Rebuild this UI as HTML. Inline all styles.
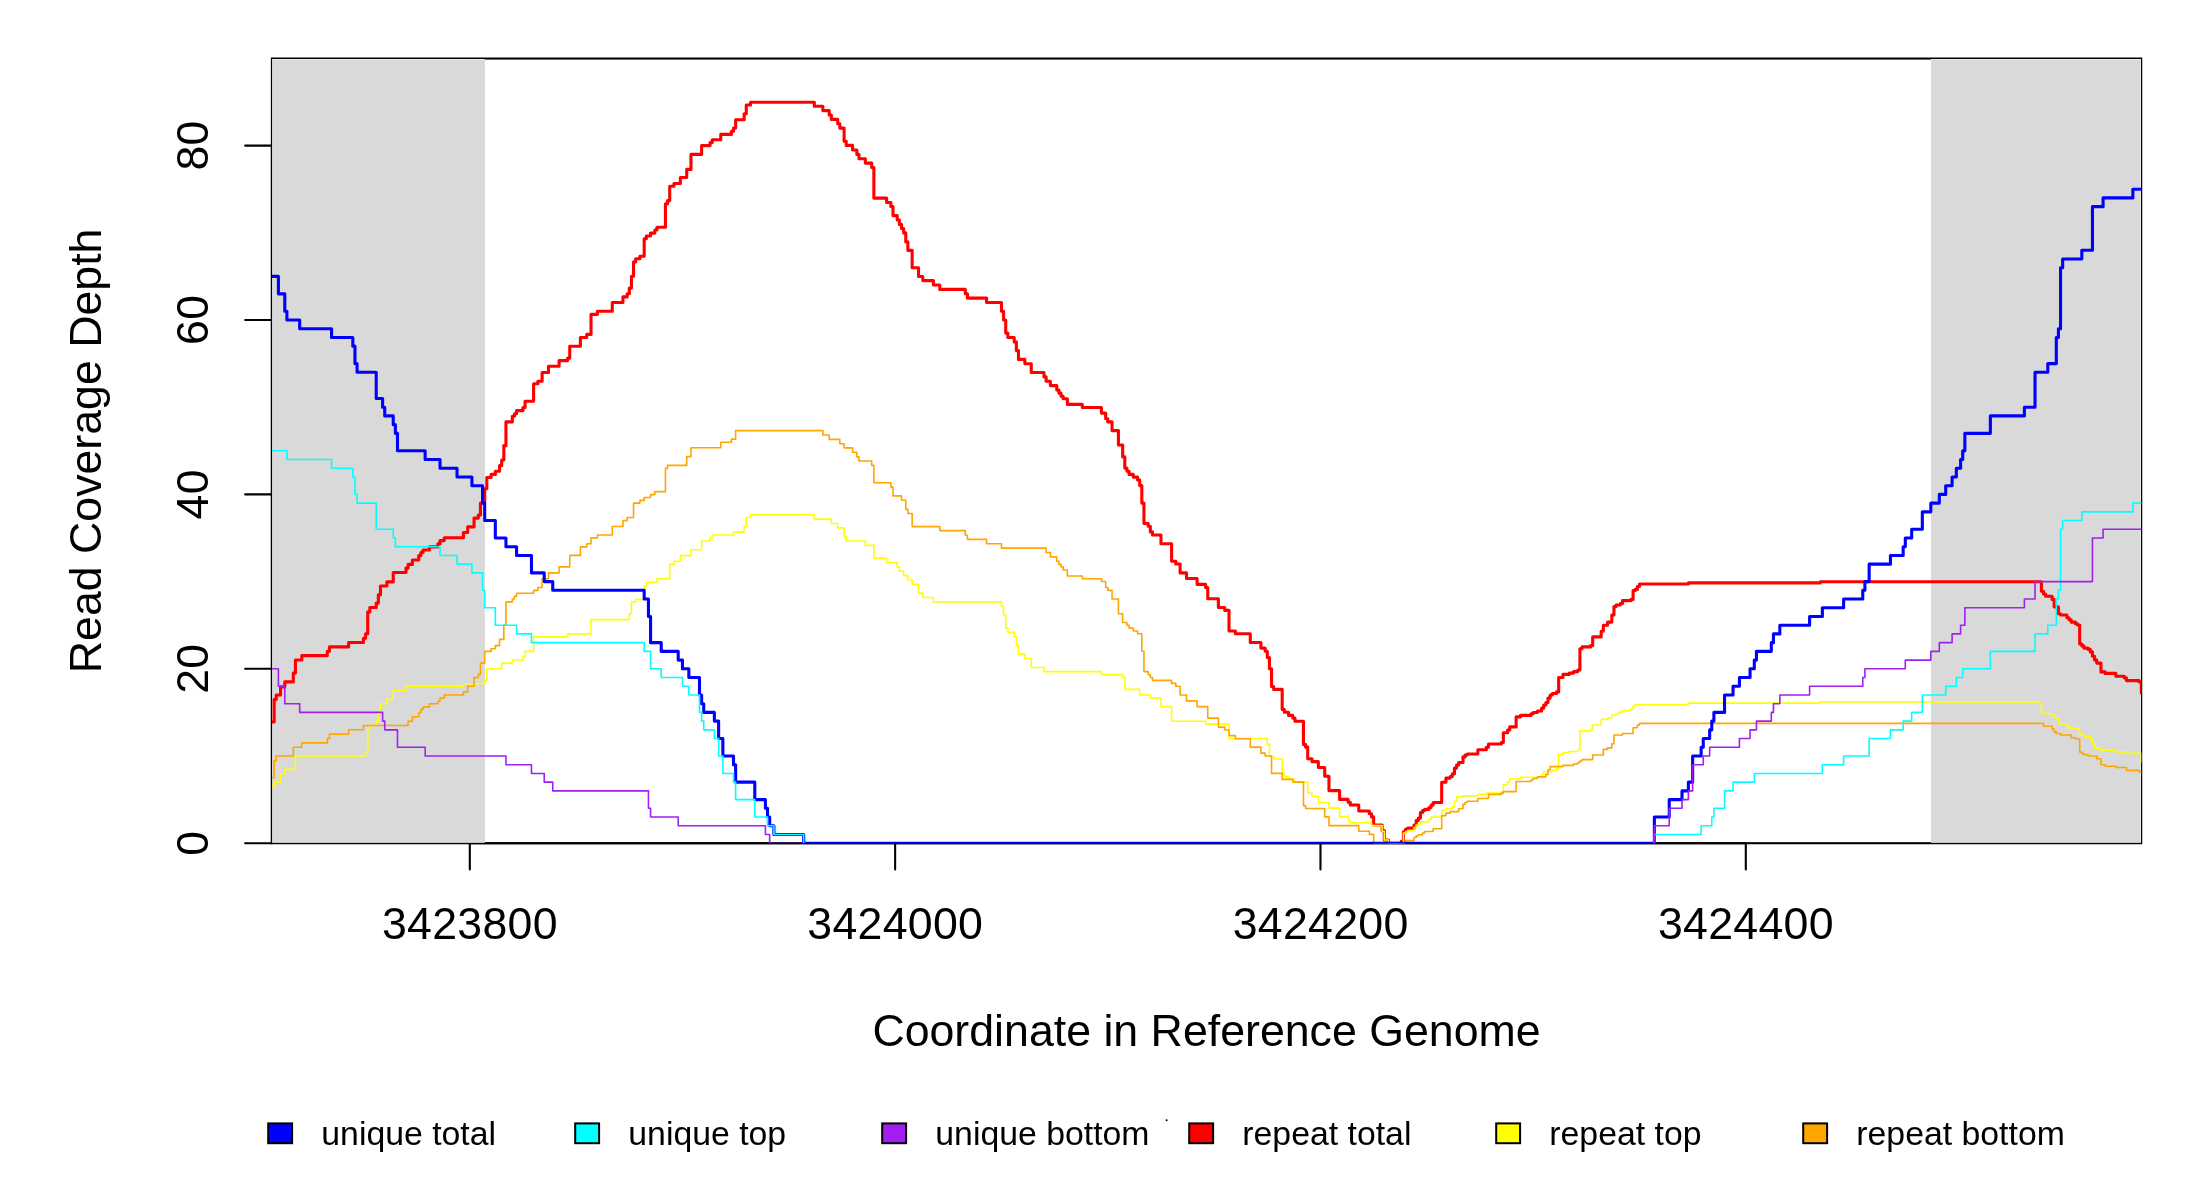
<!DOCTYPE html>
<html><head><meta charset="utf-8"><title>Read Coverage Depth</title>
<style>html,body{margin:0;padding:0;background:#fff}body{width:2200px;height:1200px;position:relative;overflow:hidden}</style></head>
<body>
<svg width="2200" height="1200" viewBox="0 0 2200 1200" style="position:absolute;left:0;top:0;will-change:transform">
<defs><clipPath id="pc"><rect x="271.90" y="58.55" width="1869.45" height="785.05"/></clipPath></defs>
<rect x="271.90" y="58.55" width="1869.30" height="784.65" fill="none" stroke="#000" stroke-width="2.1"/>
<path d="M469.8 843.20H1745.8" stroke="#000" stroke-width="2.1" fill="none"/>
<path d="M271.90 843.20V145.60" stroke="#000" stroke-width="2.1" fill="none"/>
<path d="M469.80 843.20V869.55" stroke="#000" stroke-width="2.1" stroke-linecap="round" fill="none"/>
<path d="M895.13 843.20V869.55" stroke="#000" stroke-width="2.1" stroke-linecap="round" fill="none"/>
<path d="M1320.47 843.20V869.55" stroke="#000" stroke-width="2.1" stroke-linecap="round" fill="none"/>
<path d="M1745.80 843.20V869.55" stroke="#000" stroke-width="2.1" stroke-linecap="round" fill="none"/>
<path d="M271.90 843.20H245.15" stroke="#000" stroke-width="2.1" stroke-linecap="round" fill="none"/>
<path d="M271.90 668.80H245.15" stroke="#000" stroke-width="2.1" stroke-linecap="round" fill="none"/>
<path d="M271.90 494.40H245.15" stroke="#000" stroke-width="2.1" stroke-linecap="round" fill="none"/>
<path d="M271.90 320.00H245.15" stroke="#000" stroke-width="2.1" stroke-linecap="round" fill="none"/>
<path d="M271.90 145.60H245.15" stroke="#000" stroke-width="2.1" stroke-linecap="round" fill="none"/>
<rect x="272.1" y="59.0" width="212.75" height="783.80" fill="#E8E8E8"/>
<rect x="273.0" y="60.0" width="211.85" height="781.90" fill="#D9D9D9"/>
<rect x="1931.0" y="59.0" width="210.00" height="783.80" fill="#E8E8E8"/>
<rect x="1931.0" y="60.0" width="209.00" height="781.90" fill="#D9D9D9"/>
<g clip-path="url(#pc)" fill="none" stroke-linejoin="round" stroke-linecap="butt">
<path d="M272.02 721.88H274.15V699.38H276.27V695.00H280.53V686.88H284.78V681.88H293.29V673.12H295.41V660.00H301.79V655.62H327.31V651.25H329.44V646.88H348.58V642.50H363.47V638.25H365.59V633.75H367.72V611.88H369.85V607.50H376.23V603.12H378.35V594.75H380.48V586.00H386.86V581.88H393.24V572.50H406.00V568.12H408.13V564.38H412.38V560.00H418.76V555.62H420.89V552.50H423.01V550.00H429.39V546.88H437.90V543.75H440.03V540.62H444.28V537.75H463.42V532.50H467.67V526.88H474.05V518.12H478.31V515.00H480.43V503.12H484.69V488.75H486.81V477.50H491.07V474.38H495.32V471.25H499.57V465.62H501.70V460.00H503.83V445.62H505.95V421.88H512.33V416.25H514.46V413.75H516.59V410.62H522.97V407.50H525.09V401.25H533.60V383.75H537.85V381.25H542.11V372.50H548.49V366.25H559.12V360.62H567.63V358.12H569.75V346.25H580.39V337.50H586.77V334.38H591.02V314.38H597.40V311.25H612.29V302.50H622.92V296.88H627.17V293.75H629.30V288.12H631.43V276.25H633.55V261.88H635.68V258.75H639.93V256.25H644.19V238.75H646.31V236.00H650.57V233.12H654.82V230.00H656.95V227.25H665.45V203.75H667.58V200.62H669.71V186.25H673.96V183.50H680.34V177.50H686.72V169.38H690.97V154.38H701.61V145.62H710.11V142.50H712.24V139.75H720.75V134.38H731.38V131.25H733.51V128.12H735.63V119.75H744.14V113.75H746.27V105.00H750.52V102.25H814.32V106.25H822.83V110.62H829.21V115.00H831.33V119.38H837.71V123.75H839.84V128.12H844.09V141.25H846.22V145.38H852.60V150.00H856.85V154.38H858.98V158.75H865.36V163.12H871.74V167.50H873.87V198.12H886.63V202.50H890.88V206.62H893.01V215.62H897.26V220.00H899.39V224.38H901.51V228.50H903.64V232.88H905.77V241.88H907.89V250.38H912.15V267.75H918.53V276.50H922.78V280.62H933.41V285.00H939.79V289.38H965.31V293.75H967.44V298.12H986.58V302.50H1001.47V311.25H1003.59V320.00H1005.72V333.12H1007.85V337.50H1014.23V341.88H1016.35V350.62H1018.48V359.38H1024.86V363.75H1031.24V372.50H1044.00V376.88H1046.13V381.25H1050.38V385.62H1056.76V390.00H1058.89V393.12H1061.01V396.25H1063.14V398.75H1067.39V404.38H1082.28V407.50H1101.42V413.12H1105.67V418.75H1107.80V421.88H1112.05V430.62H1118.43V445.00H1122.69V456.88H1124.81V468.12H1126.94V471.25H1129.07V474.38H1133.32V477.12H1137.57V480.00H1139.70V485.62H1141.83V503.12H1143.95V523.50H1148.21V526.25H1150.33V531.88H1152.46V535.00H1160.97V543.75H1171.60V561.25H1175.85V564.00H1180.11V572.88H1186.49V578.50H1197.12V584.38H1205.63V587.50H1207.75V598.75H1218.39V607.50H1224.77V610.38H1229.02V631.00H1235.40V633.75H1250.29V642.50H1260.92V648.12H1265.17V651.25H1267.30V657.50H1269.43V668.75H1271.55V686.50H1273.68V689.38H1282.19V709.38H1284.31V712.25H1288.57V715.38H1292.82V718.12H1294.95V721.25H1303.45V744.38H1305.58V747.12H1307.71V758.75H1311.96V761.62H1318.34V767.50H1324.72V776.25H1328.97V790.62H1339.61V799.38H1348.12V802.25H1350.24V805.00H1358.75V811.00H1369.38V813.75H1371.51V816.88H1373.64V825.00H1382.14V830.62H1384.27V840.00H1388.52V843.20H1401.28V841.25H1403.41V831.88H1405.54V829.38H1407.66V828.12H1414.04V825.00H1416.17V820.62H1418.30V818.12H1420.42V812.50H1422.55V810.62H1424.68V809.38H1428.93V807.50H1431.06V805.00H1433.18V802.50H1441.69V782.25H1445.94V778.12H1450.20V776.50H1452.32V773.75H1454.45V768.12H1456.58V765.00H1458.70V762.50H1462.96V756.88H1465.08V755.00H1467.21V754.00H1477.84V749.75H1486.35V747.25H1488.48V744.00H1501.24V742.50H1503.36V732.75H1507.62V730.00H1509.74V726.88H1516.12V716.88H1520.38V715.38H1531.01V713.75H1533.14V712.50H1537.39V711.00H1541.64V708.12H1543.77V705.00H1545.90V702.50H1548.02V698.12H1550.15V695.00H1552.28V693.50H1556.53V691.88H1558.66V677.50H1562.91V674.38H1569.29V673.12H1573.54V671.62H1577.80V670.00H1579.92V648.75H1582.05V646.88H1590.56V645.62H1592.68V636.88H1601.19V631.25H1603.32V625.25H1607.57V622.12H1611.82V615.00H1613.95V606.62H1616.08V605.00H1620.33V603.50H1622.46V600.62H1630.96V599.38H1633.09V590.62H1635.22V589.38H1637.34V586.50H1639.47V584.00H1688.38V582.88H1820.24V581.82H2041.41V591.25H2043.54V594.00H2045.66V596.25H2052.04V599.38H2054.17V606.88H2058.42V613.75H2060.55V615.00H2066.93V617.75H2069.06V619.75H2071.18V622.12H2075.44V623.75H2077.56V625.00H2079.69V644.00H2081.82V645.88H2083.94V648.12H2088.20V649.38H2090.32V651.88H2092.45V656.25H2094.58V660.00H2096.70V663.12H2100.96V671.88H2105.21V673.38H2115.84V676.25H2124.35V677.88H2126.48V680.62H2139.24V681.88H2141.36V693.12H2143.20" stroke="#FF0000" stroke-width="3.10"/>
<path d="M272.02 786.50H274.15V782.12H280.53V773.75H284.78V769.38H295.41V756.00H365.59V751.62H367.72V729.75H369.85V725.50H376.23V721.25H378.35V712.50H380.48V703.75H386.86V699.38H393.24V690.62H406.00V686.25H463.42V683.75H484.69V680.62H486.81V668.75H501.70V663.12H512.33V660.00H522.97V656.88H525.09V651.38H533.60V636.88H567.63V633.88H591.02V619.62H629.30V613.75H631.43V601.88H635.68V599.38H644.19V586.25H646.31V582.25H656.95V578.75H669.71V564.38H673.96V561.25H680.34V555.62H690.97V549.75H701.61V541.00H710.11V538.12H712.24V535.00H733.51V532.12H744.14V526.50H746.27V517.50H750.52V514.75H814.32V519.12H831.33V523.50H837.71V527.88H844.09V536.62H846.22V541.00H865.36V545.38H873.87V558.12H886.63V562.50H897.26V566.88H899.39V571.25H903.64V575.62H907.89V580.00H912.15V584.38H918.53V593.12H922.78V597.50H933.41V601.88H1001.47V606.25H1003.59V615.00H1005.72V628.12H1007.85V632.25H1014.23V636.88H1016.35V645.62H1018.48V654.12H1024.86V658.50H1031.24V667.50H1044.00V671.62H1101.42V674.62H1122.69V677.50H1124.81V689.38H1139.70V695.00H1150.33V697.88H1160.97V706.62H1171.60V721.25H1205.63V724.12H1229.02V738.50H1267.30V744.38H1269.43V756.00H1273.68V759.00H1282.19V773.38H1284.31V776.50H1288.57V779.38H1294.95V782.12H1307.71V793.12H1311.96V796.25H1318.34V802.50H1328.97V808.12H1339.61V816.88H1348.12V820.00H1350.24V822.75H1371.51V825.62H1382.14V831.25H1384.27V840.00H1388.52V843.20H1403.41V833.12H1405.54V831.88H1407.66V830.62H1414.04V827.50H1416.17V825.00H1420.42V821.88H1428.93V819.38H1431.06V817.12H1441.69V810.00H1445.94V808.50H1452.32V806.88H1454.45V801.25H1456.58V796.88H1462.96V795.88H1477.84V794.38H1486.35V793.12H1501.24V791.88H1503.36V784.75H1507.62V781.88H1509.74V778.75H1520.38V777.25H1541.64V774.38H1543.77V771.50H1552.28V770.25H1556.53V768.75H1558.66V754.38H1562.91V752.88H1569.29V751.50H1577.80V750.00H1579.92V730.88H1590.56V729.38H1592.68V725.00H1601.19V719.38H1607.57V717.88H1611.82V715.00H1616.08V713.50H1620.33V711.88H1622.46V710.62H1630.96V709.00H1633.09V706.25H1635.22V704.75H1688.38V703.12H1820.24V701.90H2039.28V703.38H2041.41V712.12H2045.66V713.75H2052.04V715.00H2054.17V717.75H2058.42V723.75H2066.93V726.25H2069.06V728.12H2077.56V729.38H2079.69V735.00H2083.94V736.50H2090.32V739.38H2092.45V743.75H2094.58V748.12H2100.96V750.25H2115.84V751.88H2124.35V753.38H2141.36V762.50H2143.20" stroke="#FFFF00" stroke-width="1.60"/>
<path d="M272.02 777.75H274.15V760.62H276.27V756.00H293.29V747.25H301.79V742.88H327.31V738.50H329.44V734.12H348.58V729.75H363.47V725.50H408.13V721.25H412.38V716.75H418.76V712.50H420.89V709.38H423.01V706.88H429.39V703.75H437.90V701.25H440.03V698.12H444.28V695.00H463.42V691.88H467.67V686.25H474.05V677.50H478.31V674.38H480.43V663.12H484.69V651.38H491.07V648.75H495.32V645.62H499.57V639.38H503.83V625.00H505.95V601.88H512.33V599.00H514.46V596.25H516.59V593.25H533.60V590.38H537.85V587.50H542.11V578.75H548.49V572.88H559.12V566.88H569.75V555.38H580.39V546.88H586.77V543.75H591.02V537.88H597.40V535.00H612.29V526.50H622.92V520.62H627.17V517.50H633.55V503.12H639.93V500.38H644.19V497.50H650.57V494.62H654.82V491.62H665.45V468.38H667.58V465.38H686.72V456.62H690.97V447.75H720.75V442.25H731.38V439.12H735.63V430.62H822.83V435.00H829.21V439.38H839.84V443.75H844.09V447.88H852.60V452.25H856.85V456.88H858.98V461.00H871.74V465.38H873.87V482.75H890.88V487.12H893.01V495.88H901.51V500.25H905.77V509.38H907.89V513.50H912.15V526.62H939.79V530.62H965.31V535.25H967.44V539.38H986.58V543.75H1001.47V548.12H1046.13V552.50H1050.38V556.88H1056.76V561.25H1058.89V564.38H1061.01V566.88H1063.14V570.00H1067.39V576.00H1082.28V578.75H1101.42V581.50H1105.67V587.50H1107.80V590.38H1112.05V599.00H1118.43V613.75H1122.69V622.50H1126.94V625.38H1129.07V628.12H1133.32V631.00H1137.57V633.75H1141.83V651.25H1143.95V671.62H1148.21V674.75H1150.33V677.50H1152.46V680.38H1171.60V683.38H1175.85V686.25H1180.11V695.00H1186.49V700.88H1197.12V706.62H1207.75V718.12H1218.39V727.12H1224.77V730.00H1229.02V735.62H1235.40V738.75H1250.29V747.12H1260.92V753.12H1265.17V756.00H1271.55V773.38H1282.19V779.38H1292.82V782.12H1303.45V805.62H1305.58V808.50H1324.72V816.88H1328.97V825.62H1358.75V831.25H1369.38V834.38H1373.64V843.20H1405.54V840.62H1414.04V837.50H1416.17V836.00H1418.30V834.75H1422.55V833.12H1424.68V831.50H1433.18V828.75H1441.69V815.62H1445.94V813.12H1450.20V811.62H1458.70V808.75H1462.96V804.38H1465.08V802.50H1467.21V801.25H1477.84V798.50H1488.48V794.38H1501.24V793.12H1503.36V791.62H1516.12V781.50H1531.01V780.00H1533.14V778.50H1537.39V776.88H1545.90V774.38H1548.02V769.75H1550.15V766.62H1562.91V765.38H1573.54V764.00H1577.80V762.50H1579.92V761.00H1582.05V759.62H1592.68V755.00H1603.32V749.38H1607.57V747.88H1611.82V743.75H1613.95V735.00H1622.46V733.50H1633.09V727.75H1637.34V725.00H1639.47V723.38H2043.54V726.25H2052.04V729.12H2054.17V731.88H2056.30V733.50H2060.55V735.00H2071.18V737.75H2075.44V739.00H2079.69V752.12H2081.82V753.50H2083.94V754.75H2088.20V756.00H2096.70V758.75H2100.96V764.75H2105.21V766.25H2115.84V767.50H2126.48V770.38H2139.24V771.88H2141.36V773.12H2143.20" stroke="#FFA500" stroke-width="1.60"/>
<path d="M272.02 276.40H278.40V293.84H284.78V311.28H286.91V320.00H299.67V328.72H331.57V337.44H352.83V346.16H354.96V363.60H357.09V372.32H376.23V398.48H382.61V407.20H384.73V415.92H393.24V424.64H395.37V433.36H397.49V450.80H425.14V459.52H440.03V468.24H457.04V476.96H471.93V485.68H482.56V503.12H484.69V520.56H495.32V538.00H505.95V546.72H516.59V555.44H531.47V572.88H544.23V581.60H552.74V590.32H644.19V599.04H648.44V616.48H650.57V642.64H661.20V651.36H678.21V660.08H682.47V668.80H688.85V677.52H699.48V694.96H701.61V703.68H703.73V712.40H714.37V721.12H718.62V738.56H722.87V756.00H733.51V764.72H735.63V782.16H754.77V799.60H765.41V808.32H767.53V817.04H769.66V825.76H773.91V834.48H803.69V843.20H1654.36V817.04H1669.24V799.60H1682.00V790.88H1688.38V782.16H1692.64V756.00H1701.14V747.28H1703.27V738.56H1709.65V729.84H1711.78V721.12H1713.90V712.40H1724.54V694.96H1733.04V686.24H1739.42V677.52H1750.06V668.80H1754.31V660.08H1756.44V651.36H1771.32V642.64H1773.45V633.92H1779.83V625.20H1809.60V616.48H1822.36V607.76H1843.63V599.04H1862.77V590.32H1864.90V581.60H1869.15V564.16H1890.42V555.44H1903.18V546.72H1905.30V538.00H1911.68V529.28H1922.32V511.84H1930.82V503.12H1939.33V494.40H1945.71V485.68H1952.09V476.96H1956.34V468.24H1960.60V459.52H1962.72V450.80H1964.85V433.36H1990.37V415.92H2024.40V407.20H2035.03V372.32H2047.79V363.60H2056.30V337.44H2058.42V328.72H2060.55V267.68H2062.68V258.96H2081.82V250.24H2092.45V206.64H2103.08V197.92H2132.86V189.20H2143.20" stroke="#0000FF" stroke-width="3.10"/>
<path d="M272.02 450.80H286.91V459.52H331.57V468.24H352.83V476.96H354.96V494.40H357.09V503.12H376.23V529.28H393.24V538.00H395.37V546.72H440.03V555.44H457.04V564.16H471.93V572.88H482.56V590.32H484.69V607.76H495.32V625.20H516.59V633.92H531.47V642.64H644.19V651.36H650.57V668.80H661.20V677.52H682.47V686.24H688.85V694.96H699.48V712.40H701.61V721.12H703.73V729.84H714.37V738.56H718.62V756.00H722.87V773.44H733.51V782.16H735.63V799.60H754.77V817.04H767.53V825.76H773.91V834.48H803.69V843.20" stroke="#00FFFF" stroke-width="1.60"/>
<path d="M1654.36 843.20H1654.36V834.48H1701.14V825.76H1711.78V817.04H1713.90V808.32H1724.54V790.88H1733.04V782.16H1754.31V773.44H1822.36V764.72H1843.63V756.00H1869.15V738.56H1890.42V729.84H1903.18V721.12H1911.68V712.40H1922.32V694.96H1945.71V686.24H1956.34V677.52H1962.72V668.80H1990.37V651.36H2035.03V633.92H2047.79V625.20H2056.30V599.04H2058.42V590.32H2060.55V529.28H2062.68V520.56H2081.82V511.84H2132.86V503.12H2143.20" stroke="#00FFFF" stroke-width="1.60"/>
<path d="M272.02 668.80H278.40V686.24H284.78V703.68H299.67V712.40H382.61V721.12H384.73V729.84H397.49V747.28H425.14V756.00H505.95V764.72H531.47V773.44H544.23V782.16H552.74V790.88H648.44V808.32H650.57V817.04H678.21V825.76H765.41V834.48H769.66V843.20" stroke="#A020F0" stroke-width="1.60"/>
<path d="M1654.36 843.20H1654.36V825.76H1669.24V808.32H1682.00V799.60H1688.38V790.88H1692.64V764.72H1703.27V756.00H1709.65V747.28H1739.42V738.56H1750.06V729.84H1756.44V721.12H1771.32V712.40H1773.45V703.68H1779.83V694.96H1809.60V686.24H1862.77V677.52H1864.90V668.80H1905.30V660.08H1930.82V651.36H1939.33V642.64H1952.09V633.92H1960.60V625.20H1964.85V607.76H2024.40V599.04H2035.03V581.60H2092.45V538.00H2103.08V529.28H2143.20" stroke="#A020F0" stroke-width="1.60"/>
</g>
<path d="M770 842.75H804" stroke="#A020F0" stroke-opacity="0.4" stroke-width="1.1" fill="none"/>
<circle cx="1166.6" cy="1120.3" r="1.0" fill="#000"/>
<text x="469.93" y="938.8" text-anchor="middle" letter-spacing="0.27" font-family="Liberation Sans, sans-serif" font-size="44.7" fill="#000">3423800</text>
<text x="895.26" y="938.8" text-anchor="middle" letter-spacing="0.27" font-family="Liberation Sans, sans-serif" font-size="44.7" fill="#000">3424000</text>
<text x="1320.60" y="938.8" text-anchor="middle" letter-spacing="0.27" font-family="Liberation Sans, sans-serif" font-size="44.7" fill="#000">3424200</text>
<text x="1745.93" y="938.8" text-anchor="middle" letter-spacing="0.27" font-family="Liberation Sans, sans-serif" font-size="44.7" fill="#000">3424400</text>
<text x="1206.5" y="1046.0" text-anchor="middle" font-family="Liberation Sans, sans-serif" font-size="44.7" fill="#000">Coordinate in Reference Genome</text>
<text transform="translate(207.9 843.07) rotate(-90)" text-anchor="middle" letter-spacing="0.27" font-family="Liberation Sans, sans-serif" font-size="44.7" fill="#000">0</text>
<text transform="translate(207.9 668.67) rotate(-90)" text-anchor="middle" letter-spacing="0.27" font-family="Liberation Sans, sans-serif" font-size="44.7" fill="#000">20</text>
<text transform="translate(207.9 494.27) rotate(-90)" text-anchor="middle" letter-spacing="0.27" font-family="Liberation Sans, sans-serif" font-size="44.7" fill="#000">40</text>
<text transform="translate(207.9 319.87) rotate(-90)" text-anchor="middle" letter-spacing="0.27" font-family="Liberation Sans, sans-serif" font-size="44.7" fill="#000">60</text>
<text transform="translate(207.9 145.47) rotate(-90)" text-anchor="middle" letter-spacing="0.27" font-family="Liberation Sans, sans-serif" font-size="44.7" fill="#000">80</text>
<text transform="translate(100.9 450.88) rotate(-90)" text-anchor="middle" font-family="Liberation Sans, sans-serif" font-size="44.7" fill="#000">Read Coverage Depth</text>
<rect x="268.20" y="1123.40" width="23.9" height="19.8" fill="#0000FF" stroke="#000" stroke-width="2"/>
<text x="321.30" y="1144.6" font-family="Liberation Sans, sans-serif" font-size="33.8" fill="#000">unique total</text>
<rect x="575.20" y="1123.40" width="23.9" height="19.8" fill="#00FFFF" stroke="#000" stroke-width="2"/>
<text x="628.30" y="1144.6" font-family="Liberation Sans, sans-serif" font-size="33.8" fill="#000">unique top</text>
<rect x="882.20" y="1123.40" width="23.9" height="19.8" fill="#A020F0" stroke="#000" stroke-width="2"/>
<text x="935.30" y="1144.6" font-family="Liberation Sans, sans-serif" font-size="33.8" fill="#000">unique bottom</text>
<rect x="1189.20" y="1123.40" width="23.9" height="19.8" fill="#FF0000" stroke="#000" stroke-width="2"/>
<text x="1242.30" y="1144.6" font-family="Liberation Sans, sans-serif" font-size="33.8" fill="#000">repeat total</text>
<rect x="1496.20" y="1123.40" width="23.9" height="19.8" fill="#FFFF00" stroke="#000" stroke-width="2"/>
<text x="1549.30" y="1144.6" font-family="Liberation Sans, sans-serif" font-size="33.8" fill="#000">repeat top</text>
<rect x="1803.20" y="1123.40" width="23.9" height="19.8" fill="#FFA500" stroke="#000" stroke-width="2"/>
<text x="1856.30" y="1144.6" font-family="Liberation Sans, sans-serif" font-size="33.8" fill="#000">repeat bottom</text>
</svg>
</body></html>
